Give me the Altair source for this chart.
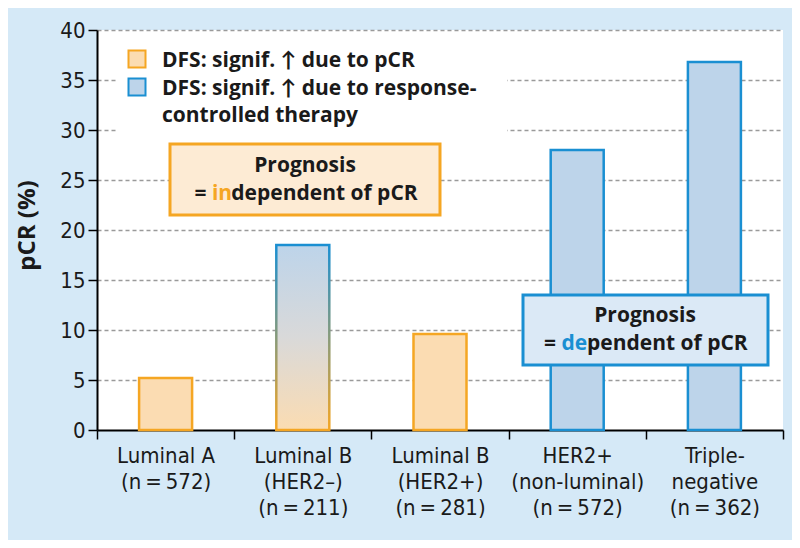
import altair as alt
import pandas as pd

# ---------------- data ----------------
categories = [
    "Luminal A|(n\u2009=\u2009572)",
    "Luminal B|(HER2\u2013)|(n\u2009=\u2009211)",
    "Luminal B|(HER2+)|(n\u2009=\u2009281)",
    "HER2+|(non-luminal)|(n\u2009=\u2009572)",
    "Triple-|negative|(n\u2009=\u2009362)",
]
pcr_values = [5.2, 18.5, 9.6, 28.0, 36.8]
groups = ["pcr", "mixed", "pcr", "response", "response"]

legend_line1 = "DFS: signif. \u2191 due to pCR"
legend_line2 = ["DFS: signif. \u2191 due to response-", "controlled therapy"]
box_title = "Prognosis"
box_orange_parts = ["=", "in", "dependent of pCR"]
box_blue_parts = ["=", "de", "pendent of pCR"]
y_ticks = [0, 5, 10, 15, 20, 25, 30, 35, 40]

# ---------------- style ----------------
BG = "#d5e9f7"
OR_STROKE = "#f5a623"
OR_FILL = "#fbdcb2"
OR_BOX = "#fdebd4"
BL_STROKE = "#1a8fd2"
BL_FILL = "#bdd4ea"
BL_BOX = "#dbe9f6"
BOLD = "Open Sans, Lato, sans-serif"
NARROW = "Liberation Sans Narrow, DejaVu Sans Condensed, sans-serif"
FS = 21  # bold annotation font size

W, H = 686, 400

df = pd.DataFrame({"cat": categories, "value": pcr_values, "group": groups})
one = pd.DataFrame({"k": [0]})

x_enc = alt.X(
    "cat:N",
    sort=categories,
    scale=alt.Scale(paddingInner=0, paddingOuter=0),
    axis=alt.Axis(
        title=None,
        labelExpr="split(datum.label, '|')",
        labelAngle=0,
        tickBand="extent",
        domainColor="black",
        domainWidth=2,
        tickColor="black",
        tickWidth=1.5,
        tickSize=9,
        labelFont=NARROW,
        labelFontSize=22,
        labelColor="#1a1a1a",
        labelLineHeight=26,
        labelPadding=6,
        labelBaseline="top",
        grid=False,
    ),
)
y_enc = alt.Y(
    "value:Q",
    scale=alt.Scale(domain=[0, 40], nice=False),
    axis=alt.Axis(
        values=y_ticks,
        title="pCR (%)",
        titleFont=BOLD,
        titleFontSize=24,
        titleFontWeight="bold",
        titleColor="#1a1a1a",
        titlePadding=20,
        titleY=195,
        domainColor="black",
        domainWidth=2,
        tickColor="black",
        tickWidth=1.5,
        tickSize=9,
        labelFont=NARROW,
        labelFontSize=22,
        labelColor="#1a1a1a",
        labelPadding=3,
        grid=True,
        gridColor="#9a9a9a",
        gridDash=[4, 3],
        gridWidth=1.5,
        gridOpacity={"condition": {"test": "datum.value === 0", "value": 0}, "value": 1},
    ),
)

base = alt.Chart(df).encode(x=x_enc, y=y_enc)

bars_or = base.transform_filter("datum.group === 'pcr'").mark_bar(
    size=53, fill=OR_FILL, stroke=OR_STROKE, strokeWidth=2.5
)
bars_bl = base.transform_filter("datum.group === 'response'").mark_bar(
    size=53, fill=BL_FILL, stroke=BL_STROKE, strokeWidth=2.5
)
grad_fill = alt.LinearGradient(
    gradient="linear", x1=0, x2=0, y1=0, y2=1,
    stops=[alt.GradientStop(offset=0, color=BL_FILL), alt.GradientStop(offset=0.5, color="#d9d9d9"),
           alt.GradientStop(offset=1, color=OR_FILL)],
)
grad_stroke = alt.LinearGradient(
    gradient="linear", x1=0, x2=0, y1=0, y2=1,
    stops=[alt.GradientStop(offset=0, color=BL_STROKE), alt.GradientStop(offset=1, color=OR_STROKE)],
)
bars_mx = base.transform_filter("datum.group === 'mixed'").mark_bar(
    size=53, fill=grad_fill, stroke=grad_stroke, strokeWidth=2.5
)


def rect(x1, x2, y1, y2, fill, stroke=None, sw=0):
    kw = dict(fill=fill)
    if stroke:
        kw.update(stroke=stroke, strokeWidth=sw)
    return alt.Chart(one).mark_rect(**kw).encode(
        x=alt.value(x1), x2=alt.value(x2), y=alt.value(y1), y2=alt.value(y2)
    )


def txt(t, x, y, align="left", color="#1a1a1a", size=FS):
    return alt.Chart(one).mark_text(
        align=align, baseline="alphabetic", font=BOLD, fontSize=size,
        fontWeight="bold", color=color, lineHeight=27,
    ).encode(x=alt.value(x), y=alt.value(y), text=alt.value(t))


def square(x, y, fill, stroke):
    return alt.Chart(one).mark_square(
        size=289, fill=fill, stroke=stroke, strokeWidth=2, opacity=1
    ).encode(x=alt.value(x), y=alt.value(y))


legend = [
    rect(20, 410, 4, 103, "white"),
    square(40, 29, OR_FILL, OR_STROKE),
    square(40, 57, BL_FILL, BL_STROKE),
    txt(legend_line1, 65, 37),
    txt(legend_line2, 65, 65),
]

# line 2 of each box: "=" + coloured part + rest, laid out around the box centre
EQ_SP = (0.572 + 0.26) * FS        # width of "= "
W_IN = (0.286 + 0.635) * FS        # width of "in"
W_DE = (0.635 + 0.576) * FS        # width of "de"
TOT_OR = 10.531 * FS
TOT_BL = (10.531 - 0.921) * FS
cx_or, cx_bl = 208, 548
l_or = cx_or - TOT_OR / 2
l_bl = cx_bl - TOT_BL / 2

box_or = [
    rect(73, 343, 114, 185, OR_BOX, OR_STROKE, 3),
    txt(box_title, cx_or, 142, align="center"),
    txt(box_orange_parts[0], l_or, 170),
    txt(box_orange_parts[1], l_or + EQ_SP, 170, color=OR_STROKE),
    txt(box_orange_parts[2], l_or + EQ_SP + W_IN, 170),
]
box_bl = [
    rect(426, 671, 265, 335, BL_BOX, BL_STROKE, 3),
    txt(box_title, cx_bl, 292, align="center"),
    txt(box_blue_parts[0], l_bl, 320),
    txt(box_blue_parts[1], l_bl + EQ_SP, 320, color=BL_STROKE),
    txt(box_blue_parts[2], l_bl + EQ_SP + W_DE, 320),
]

chart = alt.layer(
    bars_or, bars_bl, bars_mx, *legend, *box_or, *box_bl
).properties(
    width=W, height=H,
    autosize=alt.AutoSizeParams(type="none"),
    padding={"left": 89, "top": 22, "right": 9, "bottom": 110},
    background=BG,
).configure_view(fill="white", stroke=None)

chart.save("out.html", embed_options={"renderer": "svg", "actions": False})
